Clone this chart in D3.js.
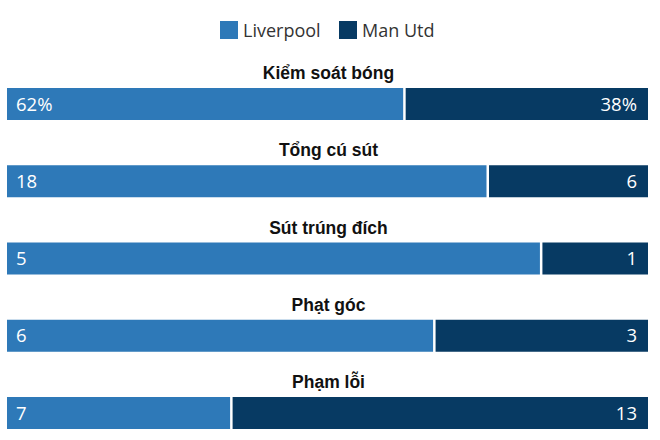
<!DOCTYPE html>
<html lang="vi">
<head>
<meta charset="UTF-8">
<title>Liverpool - Man Utd</title>
<script src="https://d3js.org/d3.v7.min.js"></script>
<style>
    body { margin: 0; background: #fff; }
    .title { font: bold 17.5px "Liberation Sans", Arial, sans-serif; fill: #111; text-anchor: middle; }
    .val { font: 18.5px "Open Sans", sans-serif; fill: #fff; }
    .legend text { font: 18px "Open Sans", sans-serif; fill: #333; }
</style>
</head>
<body>
<script>
// số liệu trận đấu
const stats = ["Kiểm soát bóng", "Tổng cú sút", "Sút trúng đích", "Phạt góc", "Phạm lỗi"];
const liverpool = [62, 18, 5, 6, 7];
const manUtd = [38, 6, 1, 3, 13];
const suffix = ["%", "", "", "", ""];
const teams = ["Liverpool", "Man Utd"];
const colors = ["#2e79b8", "#073a63"];

const width = 660, height = 440;
const left = 7, right = 648, barH = 32, gap = 2.5;

const svg = d3.select("body").append("svg")
    .attr("width", width)
    .attr("height", height);

// hàng
const y = d3.scaleBand().domain(stats).range([50, 436.25]).paddingInner(0);

// chú thích
const legend = svg.append("g").attr("class", "legend");
const lg = [{ x: 220 }, { x: 339 }];
teams.forEach((t, i) => {
    legend.append("rect")
        .attr("x", lg[i].x).attr("y", 21)
        .attr("width", 18).attr("height", 18)
        .attr("fill", colors[i]);
    legend.append("text")
        .attr("x", lg[i].x + 23).attr("y", 37)
        .text(t);
});

stats.forEach((s, i) => {
    const total = liverpool[i] + manUtd[i];
    const x = d3.scaleLinear().domain([0, total]).range([left, right]);
    const g = svg.append("g").attr("transform", `translate(0,${y(s)})`);

    g.append("text")
        .attr("class", "title")
        .attr("x", (left + right) / 2 + 1)
        .attr("y", 29)
        .text(s);

    g.append("rect")
        .attr("x", x(0))
        .attr("y", 38)
        .attr("width", x(liverpool[i]) - x(0) - gap / 2)
        .attr("height", barH)
        .attr("fill", colors[0]);

    g.append("rect")
        .attr("x", x(liverpool[i]) + gap / 2)
        .attr("y", 38)
        .attr("width", x(total) - x(liverpool[i]) - gap / 2)
        .attr("height", barH)
        .attr("fill", colors[1]);

    g.append("text")
        .attr("class", "val")
        .attr("x", x(0) + 9)
        .attr("y", 38 + barH / 2 + 6.5)
        .text(liverpool[i] + suffix[i]);

    g.append("text")
        .attr("class", "val")
        .attr("x", x(total) - 11)
        .attr("y", 38 + barH / 2 + 6.5)
        .attr("text-anchor", "end")
        .text(manUtd[i] + suffix[i]);
});
</script>
</body>
</html>
